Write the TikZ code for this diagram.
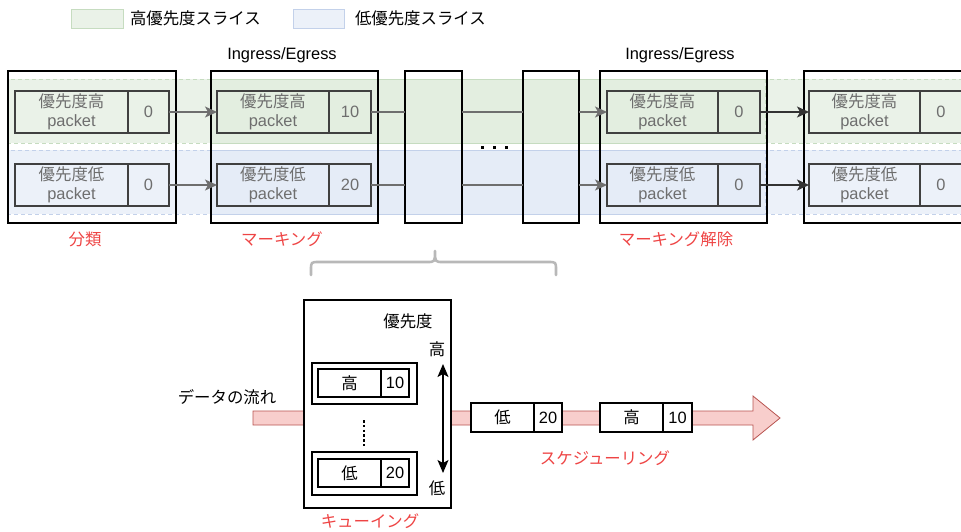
\documentclass[tikz,border=0pt]{standalone}
\usepackage{fontspec}
\setmainfont{Liberation Sans}
\newfontfamily\jp{Noto Sans CJK JP}
\usetikzlibrary{arrows.meta}
\definecolor{gfill}{HTML}{E3EEE0}
\definecolor{gfillL}{HTML}{EAF2E8}
\definecolor{gstroke}{HTML}{C6DCC0}
\definecolor{bfill}{HTML}{E5ECF7}
\definecolor{bfillL}{HTML}{ECF1F9}
\definecolor{bstroke}{HTML}{C3D1EA}
\definecolor{gtext}{HTML}{6E6E6E}
\definecolor{pkline}{HTML}{404040}
\definecolor{redlab}{HTML}{EE4444}
\definecolor{pinkF}{HTML}{F8CECC}
\definecolor{pinkS}{HTML}{B85450}
\definecolor{bracec}{HTML}{B8B8B8}
\tikzset{
  bigbox/.style={draw=black, line width=1.3pt, anchor=north west, minimum height=152pt},
  pk/.style={draw=pkline, line width=1.3pt, text=gtext, align=center, anchor=north west, minimum height=42pt},
  pkv/.style={pk, minimum width=41pt},
  garr/.style={draw=gtext, line width=1.3pt, -{Stealth[length=12pt,width=11pt,inset=3pt]}},
  gline/.style={draw=gtext, line width=1.3pt},
  darr/.style={draw=black!80, line width=1.3pt, -{Stealth[length=12pt,width=11pt,inset=3pt]}},
  redlabel/.style={text=redlab},
  qbox/.style={draw=black, line width=1.2pt, anchor=north west, fill=white},
}
\begin{document}
\begin{tikzpicture}[x=1pt,y=-1pt, every node/.style={inner sep=0pt, outer sep=0pt, font=\fontsize{16.4}{19.5}\selectfont}]
\useasboundingbox (0,0) rectangle (961,531);
\clip (0,0) rectangle (961,531);
% legend
\node[draw=gstroke, fill=gfillL, line width=1pt, anchor=north west, minimum width=52pt, minimum height=19pt] (lg) at (71,9) {};
\node[anchor=west] (lgt) at (130,18.5) {\jp 高優先度スライス};
\node[draw=bstroke, fill=bfillL, line width=1pt, anchor=north west, minimum width=51pt, minimum height=19pt] (lb) at (293,9) {};
\node[anchor=west] (lbt) at (355,18.5) {\jp 低優先度スライス};
% bands
\path[fill=gfillL, draw=gstroke, dash pattern=on 4pt off 3pt, line width=1pt] (8,79) rectangle (210,143);
\path[fill=gfill, draw=gstroke, line width=1pt] (210,79) rectangle (765,143);
\path[fill=gfillL, draw=gstroke, dash pattern=on 4pt off 3pt, line width=1pt] (765,79) rectangle (975,143);
\path[fill=bfillL, draw=bstroke, dash pattern=on 4pt off 3pt, line width=1pt] (8,150) rectangle (210,214);
\path[fill=bfill, draw=bstroke, line width=1pt] (210,150) rectangle (765,214);
\path[fill=bfillL, draw=bstroke, dash pattern=on 4pt off 3pt, line width=1pt] (765,150) rectangle (975,214);
% big boxes
\node[bigbox, minimum width=168pt] (b1) at (8,71) {};
\node[bigbox, minimum width=167pt] (b2) at (211,71) {};
\node[bigbox, minimum width=57pt] (b3) at (405,71) {};
\node[bigbox, minimum width=56pt] (b4) at (523,71) {};
\node[bigbox, minimum width=167pt] (b5) at (600,71) {};
\node[bigbox, minimum width=170pt] (b6) at (804,71) {};
% titles
\node (t2) at (282,55) {Ingress/Egress};
\node (t5) at (680,55) {Ingress/Egress};
% packets
\node[pk, minimum width=113pt] (p1h) at (15,91) {{\jp 優先度高}\\packet};
\node[pkv] (p1hv) at (p1h.north east) {0};
\node[pk, minimum width=113pt] (p1l) at (15,164) {{\jp 優先度低}\\packet};
\node[pkv] (p1lv) at (p1l.north east) {0};
\node[pk, minimum width=112pt] (p2h) at (217,91) {{\jp 優先度高}\\packet};
\node[pkv, minimum width=42pt] (p2hv) at (p2h.north east) {10};
\node[pk, minimum width=112pt] (p2l) at (217,164) {{\jp 優先度低}\\packet};
\node[pkv, minimum width=42pt] (p2lv) at (p2l.north east) {20};
\node[pk, minimum width=111pt] (p5h) at (607,91) {{\jp 優先度高}\\packet};
\node[pkv, minimum width=42pt] (p5hv) at (p5h.north east) {0};
\node[pk, minimum width=111pt] (p5l) at (607,164) {{\jp 優先度低}\\packet};
\node[pkv, minimum width=42pt] (p5lv) at (p5l.north east) {0};
\node[pk, minimum width=111pt] (p6h) at (809,91) {{\jp 優先度高}\\packet};
\node[pkv, minimum width=42pt] (p6hv) at (p6h.north east) {0};
\node[pk, minimum width=111pt] (p6l) at (809,164) {{\jp 優先度低}\\packet};
\node[pkv, minimum width=42pt] (p6lv) at (p6l.north east) {0};
% connectors
\draw[garr] (p1hv.east) -- (p2h.west);
\draw[garr] (p1lv.east) -- (p2l.west);
\draw[gline] (p2hv.east) -- (p2hv.east -| b3.west);
\draw[gline] (p2lv.east) -- (p2lv.east -| b3.west);
\draw[gline] (b3.east |- p2hv.east) -- (b4.west |- p2hv.east);
\draw[gline] (b3.east |- p2lv.east) -- (b4.west |- p2lv.east);
\draw[garr] (b4.east |- p5h.west) -- (p5h.west);
\draw[garr] (b4.east |- p5l.west) -- (p5l.west);
\draw[darr] (p5hv.east) -- (p6h.west);
\draw[darr] (p5lv.east) -- (p6l.west);
% dots
\fill (480.5,145.5) rectangle +(3.2,3.2);
\fill (492.5,145.5) rectangle +(3.2,3.2);
\fill (504.5,145.5) rectangle +(3.2,3.2);
% labels
\node[redlabel] (l1) at (85,239) {\jp 分類};
\node[redlabel] (l2) at (282,239) {\jp マーキング};
\node[redlabel] (l5) at (676,239) {\jp マーキング解除};
% brace
\draw[draw=bracec, line width=2.6pt, line cap=round, line join=round]
  (311,275) -- (311,270) .. controls (311,262) .. (319,262) -- (427,262)
  .. controls (435,262) .. (435,251) .. controls (435,262) .. (443,262)
  -- (548,262) .. controls (556,262) .. (556,270) -- (556,275);
% flow arrow
\path[fill=pinkF, draw=pinkS, line width=0.8pt] (253,411) -- (753,411) -- (753,396) -- (780,418) -- (753,440) -- (753,425) -- (253,425) -- cycle;
% queue box
\node[qbox, minimum width=147pt, minimum height=208pt] (qb) at (304,300) {};
\node (prio) at (408,321) {\jp 優先度};
\node (hi) at (437,349) {\jp 高};
\node (lo) at (437,488) {\jp 低};
\coordinate (ahi) at (443,364);
\coordinate (alo) at (443,473);
\draw[line width=1.3pt, {Stealth[length=13pt,width=11pt,inset=3pt]}-{Stealth[length=13pt,width=11pt,inset=3pt]}] (ahi) -- (alo);
\node[qbox, minimum width=105pt, minimum height=41pt] (qho) at (312,363) {};
\node[qbox, minimum width=63pt, minimum height=28pt] (qhl) at (318,369) {\jp 高};
\node[qbox, minimum width=28pt, minimum height=28pt] (qhv) at (qhl.north east) {10};
\node[qbox, minimum width=105pt, minimum height=43pt] (qlo) at (312,452) {};
\node[qbox, minimum width=63pt, minimum height=28pt] (qll) at (318,459) {\jp 低};
\node[qbox, minimum width=28pt, minimum height=28pt] (qlv) at (qll.north east) {20};
\draw[line width=2.8pt, dash pattern=on 2.6pt off 2.2pt] (364,420) -- (364,446);
% flow packets
\node[qbox, minimum width=63pt, minimum height=29pt] (f1) at (471,403) {\jp 低};
\node[qbox, minimum width=28pt, minimum height=29pt] (f1v) at (f1.north east) {20};
\node[qbox, minimum width=63pt, minimum height=29pt] (f2) at (600,403) {\jp 高};
\node[qbox, minimum width=29pt, minimum height=29pt] (f2v) at (f2.north east) {10};
% bottom labels
\node (flow) at (227,397) {\jp データの流れ};
\node[redlabel] (sch) at (605,458) {\jp スケジューリング};
\node[redlabel] (que) at (370,521) {\jp キューイング};
\end{tikzpicture}
\end{document}
